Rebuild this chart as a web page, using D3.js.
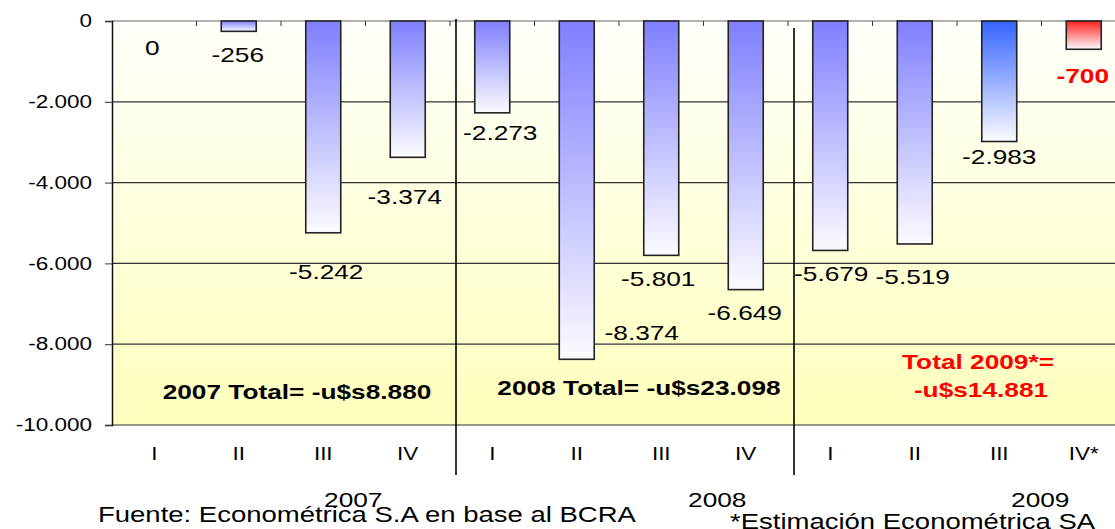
<!DOCTYPE html>
<html>
<head>
<meta charset="utf-8">
<script src="https://cdn.jsdelivr.net/npm/d3@7/dist/d3.min.js"></script>
<style>
  html, body { margin: 0; padding: 0; background: #fff; }
  svg { display: block; }
  text { font-family: "Liberation Sans", Arial, sans-serif; }
</style>
</head>
<body>
<svg id="chart" width="1115" height="529"></svg>
<script>
// data
const quarters = ['I', 'II', 'III', 'IV', 'I', 'II', 'III', 'IV', 'I', 'II', 'III', 'IV*'];
const years = ['2007', '2008', '2009'];
const values = [0, -256, -5242, -3374, -2273, -8374, -5801, -6649, -5679, -5519, -2983, -700];
const barKind = ['real', 'real', 'real', 'real', 'real', 'real', 'real', 'real', 'real', 'real', 'estim', 'proj'];
const yTicks = [0, -2000, -4000, -6000, -8000, -10000];
const totalTexts = [['2007 Total= -u$s8.880'], ['2008 Total= -u$s23.098'], ['Total 2009*=', '-u$s14.881']];
const footLeft = 'Fuente: Econométrica S.A en base al BCRA';
const footRight = '*Estimación Econométrica SA';

// layout (label nudges, px) -- the original labels were hand-placed
const labelNudge = [[-2, 27], [-1, 23], [3, 39], [-3, 39], [8, 20], [65, -27],
  [-3, 23], [-1, 23], [1, 23], [-2, 33], [0, 15], [-1, 26]];
const yearNudge = [30, 56, 41];
const totalPos = [[16, -9180], [20, -9080], [21, -8440]];
const SX = 1.25; // the source text is drawn wide

const svg = d3.select('#chart');
const plotLeft = 112, plotTop = 21, plotBottom = 425;
const x = d3.scaleBand().domain(d3.range(quarters.length))
  .range([plotLeft, plotLeft + 84.5 * 12])
  .paddingInner(0.586).paddingOuter(0.293);
const y = d3.scaleLinear().domain([-10000, 0]).range([plotBottom, plotTop]);
const plotRight = x.range()[1];
const step = x.step();
const x0 = x.range()[0];

const loc = d3.formatLocale({ decimal: ',', thousands: '.', grouping: [3], currency: ['$', ''], minus: '-' });
const fmt = loc.format(',d');

const defs = svg.append('defs');
const bg = defs.append('linearGradient').attr('id', 'bg').attr('x1', 0).attr('y1', 0).attr('x2', 0).attr('y2', 1);
bg.append('stop').attr('offset', 0).attr('stop-color', '#fffffb');
bg.append('stop').attr('offset', 1).attr('stop-color', '#ffffbd');

const grads = { real: '#7f7fff', estim: '#3464ff', proj: '#ff2020' };
Object.keys(grads).forEach((k) => {
  const g = defs.append('linearGradient').attr('id', 'g-' + k)
    .attr('x1', 0).attr('y1', 0).attr('x2', 0).attr('y2', 1);
  g.append('stop').attr('offset', 0).attr('stop-color', grads[k]);
  g.append('stop').attr('offset', 1).attr('stop-color', '#fbfbff');
});

function place(sel, px, py) {
  return sel.attr('transform', `translate(${px},${py}) scale(${SX},1)`);
}

// plot background
svg.append('rect')
  .attr('x', plotLeft).attr('y', plotTop)
  .attr('width', plotRight - plotLeft).attr('height', plotBottom - plotTop)
  .attr('fill', 'url(#bg)');

// gridlines
svg.append('g').selectAll('line')
  .data(yTicks).enter()
  .append('line')
  .attr('x1', plotLeft).attr('x2', plotRight)
  .attr('y1', d => y(d)).attr('y2', d => y(d))
  .attr('stroke', d => (d === 0 ? '#666' : '#333'))
  .attr('stroke-width', 1.2);

// y axis
const yAxis = svg.append('g')
  .attr('transform', `translate(${plotLeft},0)`)
  .call(d3.axisLeft(y).tickValues(yTicks).tickSize(7).tickFormat(fmt));
yAxis.select('.domain').attr('stroke', '#111').attr('stroke-width', 1.5);
yAxis.selectAll('.tick line').attr('stroke', '#333');
yAxis.selectAll('.tick text')
  .attr('x', -20 / SX)
  .attr('transform', `scale(${SX},1)`)
  .attr('font-size', 18)
  .attr('fill', '#000');
yAxis.attr('font-family', null);

// top category ticks
svg.append('g').selectAll('line')
  .data(d3.range(1, quarters.length)).enter()
  .append('line')
  .attr('x1', d => x0 + d * step).attr('x2', d => x0 + d * step)
  .attr('y1', plotTop).attr('y2', plotTop + 5)
  .attr('stroke', '#333');

// bars
svg.append('g').selectAll('rect')
  .data(values.map((v, i) => ({ v, i })).filter(d => d.v !== 0)).enter()
  .append('rect')
  .attr('x', d => x(d.i))
  .attr('y', y(0))
  .attr('width', x.bandwidth())
  .attr('height', d => y(d.v) - y(0))
  .attr('fill', d => `url(#g-${barKind[d.i]})`)
  .attr('stroke', '#222')
  .attr('stroke-width', 1.6);

// value labels
svg.append('g').selectAll('text')
  .data(values).enter()
  .append('text')
  .attr('text-anchor', 'middle')
  .attr('dy', '0.35em')
  .attr('font-size', 21)
  .attr('font-weight', (d, i) => (barKind[i] === 'proj' ? 'bold' : 'normal'))
  .attr('fill', (d, i) => (barKind[i] === 'proj' ? '#ff0000' : '#000'))
  .each(function (d, i) {
    place(d3.select(this), x(i) + x.bandwidth() / 2 + labelNudge[i][0], y(d) + labelNudge[i][1]);
  })
  .text(d => fmt(d));

// bottom category labels
const xAxis = svg.append('g')
  .attr('transform', `translate(0,${plotBottom})`)
  .call(d3.axisBottom(x).tickSize(0).tickFormat(i => quarters[i]));
xAxis.select('.domain').remove();
xAxis.selectAll('.tick text')
  .attr('y', 29).attr('dy', '0.35em')
  .attr('transform', `scale(${SX},1)`)
  .attr('font-size', 18)
  .attr('fill', '#000');
xAxis.attr('font-family', null);

// year separators
[[4, plotTop - 2], [8, plotTop + 7]].forEach(([b, y1]) => {
  svg.append('line')
    .attr('x1', x0 + b * step + 6).attr('x2', x0 + b * step + 6)
    .attr('y1', y1).attr('y2', 475)
    .attr('stroke', '#000').attr('stroke-width', 1.6);
});

// year labels
years.forEach((yr, k) => {
  const qi = k * 4 + 2;
  place(svg.append('text'), x(qi) + x.bandwidth() / 2 + yearNudge[k], 507)
    .attr('text-anchor', 'middle')
    .attr('font-size', 21)
    .text(yr);
});

// totals
totalTexts.forEach((lines, k) => {
  const cx = x0 + (k * 4 + 2) * step + totalPos[k][0];
  lines.forEach((ln, j) => {
    place(svg.append('text'), cx + j * 3, y(totalPos[k][1]) + j * 28)
      .attr('text-anchor', 'middle')
      .attr('dy', '0.35em')
      .attr('font-size', 21)
      .attr('font-weight', 'bold')
      .attr('fill', k === 2 ? '#ff0000' : '#000')
      .text(ln);
  });
});

// footnotes
place(svg.append('text'), 98, 522).attr('font-size', 22).text(footLeft);
place(svg.append('text'), 730, 529).attr('font-size', 22).text(footRight);
</script>
</body>
</html>
